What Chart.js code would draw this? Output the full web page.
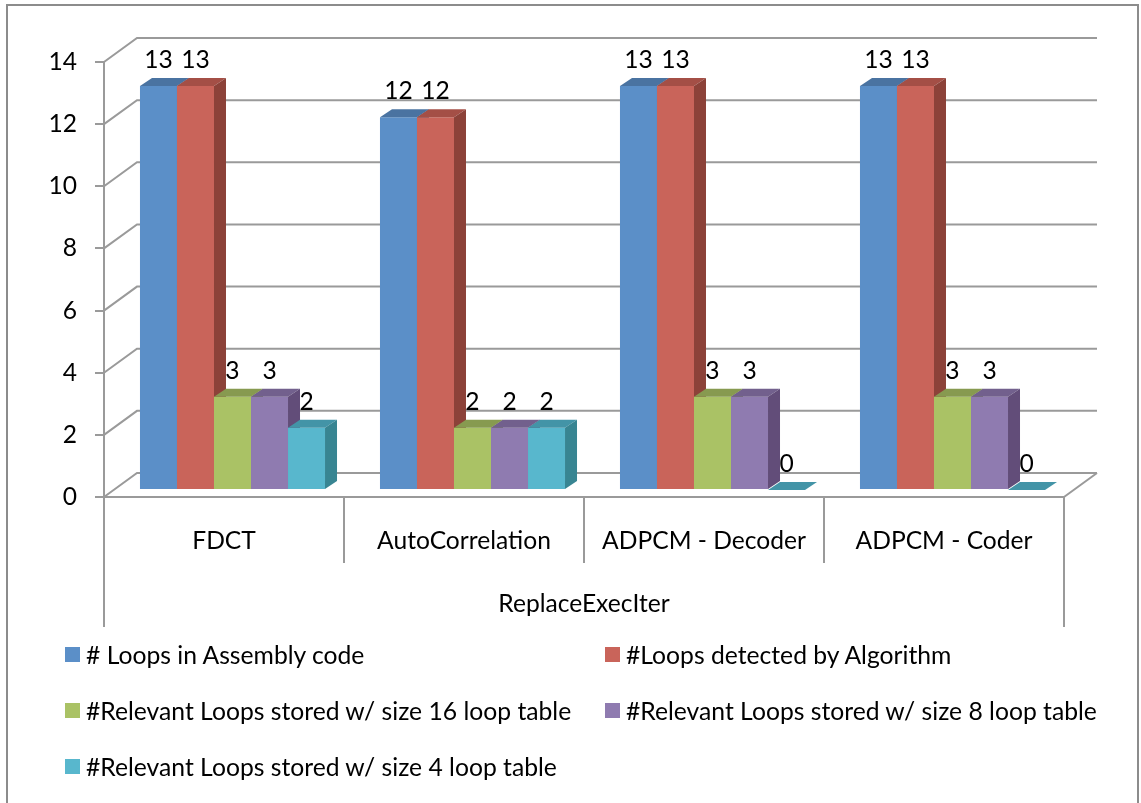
<!DOCTYPE html>
<html>
<head>
<meta charset="utf-8">
<script src="https://cdn.jsdelivr.net/npm/chart.js@4.4.1/dist/chart.umd.min.js"></script>
<style>
  html, body { margin: 0; padding: 0; background: #fff; }
  #wrap { position: relative; width: 1141px; height: 803px; overflow: hidden; font-family: Lato, "Open Sans", sans-serif; }
  #frame { position: absolute; left: 6px; top: 4px; width: 1133px; height: 820px; border: 2px solid #8c8c8c; box-sizing: border-box; }
  #c { position: absolute; left: 0; top: 0; }
  .lg { position: absolute; height: 30px; line-height: 30px; font-size: 24.7px; color: #000; white-space: nowrap; }
  .lg i { position: absolute; left: 0; top: 7px; width: 15px; height: 15px; }
  .lg span { position: absolute; left: 21px; top: 0; }
</style>
</head>
<body>
<div id="wrap">
  <div id="frame"></div>
  <canvas id="c" width="1141" height="803"></canvas>
  <div id="legend"></div>
</div>
<script>
// datos
const categories = ["FDCT", "AutoCorrelation", "ADPCM - Decoder", "ADPCM - Coder"];
const groupLabel = "ReplaceExecIter";
const seriesNames = [
  "# Loops in Assembly code",
  "#Loops detected by Algorithm",
  "#Relevant Loops stored w/ size 16 loop table",
  "#Relevant Loops stored w/ size 8 loop table",
  "#Relevant Loops stored w/ size 4 loop table"
];
const loopsAssembly = [13, 12, 13, 13];
const loopsDetected = [13, 12, 13, 13];
const stored16 = [3, 2, 3, 3];
const stored8 = [3, 2, 3, 3];
const stored4 = [2, 2, 0, 0];
const yMax = 14;
const yStep = 2;

// colores: cara frontal, superior, lateral
const frontColors = ["#5b8fc8", "#c9645a", "#aac265", "#8f7bb0", "#58b7cd"];
const topColors   = ["#4a73a1", "#a44f46", "#879a50", "#72608d", "#4394a7"];
const sideColors  = ["#3f6690", "#8c4239", "#7a8b46", "#624d79", "#388592"];

const GRID = "#9a9a9a";
const FONT = "Lato, 'Open Sans', sans-serif";
const FSIZE = 24.6;
const WALL_DX = 33, WALL_DY = -24;   // profundidad de la pared del fondo
const BAR_DX = 12, BAR_DY = -8;      // profundidad de cada barra
const SHIFT_X = 8.5, SHIFT_Y = -7;   // las barras estan a media profundidad

const allSeries = [loopsAssembly, loopsDetected, stored16, stored8, stored4];

// paredes 3D (lineas de fondo + diagonales)
const walls = {
  id: "walls",
  beforeDraw(chart) {
    const { ctx, chartArea: a, scales: { x, y } } = chart;
    ctx.save();
    ctx.strokeStyle = GRID;
    ctx.lineWidth = 2;
    y.ticks.forEach(t => {
      const py = y.getPixelForValue(t.value);
      ctx.beginPath();
      ctx.moveTo(a.left, py);
      ctx.lineTo(a.left + WALL_DX, py + WALL_DY);
      ctx.lineTo(a.right + WALL_DX, py + WALL_DY);
      ctx.stroke();
    });
    // borde derecho del piso
    ctx.beginPath();
    ctx.moveTo(a.right, a.bottom);
    ctx.lineTo(a.right + WALL_DX, a.bottom + WALL_DY);
    ctx.stroke();
    // separadores de categorias (tabla)
    const half = (a.right - a.left) / categories.length / 2;
    for (let i = 0; i <= categories.length; i++) {
      const px = i < categories.length ? x.getPixelForValue(i) - half : x.getPixelForValue(i - 1) + half;
      const outer = i === 0 || i === categories.length;
      ctx.beginPath();
      ctx.moveTo(px, a.bottom);
      ctx.lineTo(px, a.bottom + (outer ? 130 : 66));
      ctx.stroke();
    }
    ctx.restore();
  }
};

// barras 3D: frente (elemento de Chart.js) + tapa + costado, de izquierda a derecha
const bars3d = {
  id: "bars3d",
  beforeDatasetsDraw(chart) {
    const ctx = chart.ctx;
    const metas = chart.getSortedVisibleDatasetMetas();
    ctx.save();
    ctx.translate(SHIFT_X, SHIFT_Y);
    categories.forEach((_, j) => {
      metas.forEach((meta, i) => {
        const bar = meta.data[j];
        const { x, y, base, width } = bar.getProps(["x", "y", "base", "width"], true);
        const l = x - width / 2, r = x + width / 2;
        bar.draw(ctx);
        ctx.fillStyle = topColors[i];
        ctx.beginPath();
        ctx.moveTo(l, y); ctx.lineTo(r, y);
        ctx.lineTo(r + BAR_DX, y + BAR_DY); ctx.lineTo(l + BAR_DX, y + BAR_DY);
        ctx.closePath(); ctx.fill();
        ctx.fillStyle = sideColors[i];
        ctx.beginPath();
        ctx.moveTo(r, y); ctx.lineTo(r + BAR_DX, y + BAR_DY);
        ctx.lineTo(r + BAR_DX, base + BAR_DY); ctx.lineTo(r, base);
        ctx.closePath(); ctx.fill();
      });
    });
    // etiquetas de valor
    ctx.fillStyle = "#000";
    ctx.font = FSIZE + "px " + FONT;
    ctx.textAlign = "center";
    ctx.textBaseline = "middle";
    metas.forEach((meta, i) => {
      meta.data.forEach((bar, j) => {
        ctx.fillText(String(allSeries[i][j]), bar.x, bar.y - 26);
      });
    });
    ctx.restore();
    return false;
  }
};

new Chart(document.getElementById("c"), {
  type: "bar",
  data: {
    labels: categories,
    datasets: allSeries.map((d, i) => ({
      label: seriesNames[i],
      data: d,
      backgroundColor: frontColors[i],
      borderWidth: 0
    }))
  },
  options: {
    responsive: false,
    animation: false,
    categoryPercentage: 0.771,
    barPercentage: 1,
    layout: { padding: { left: 10, top: 62, right: 77, bottom: 166 } },
    plugins: { legend: { display: false }, tooltip: { enabled: false } },
    scales: {
      x: {
        afterFit: s => { s.height = 140; },
        grid: { display: false },
        border: { display: true, color: GRID, width: 2 },
        ticks: { color: "#000", font: { family: FONT, size: FSIZE }, padding: 21, maxRotation: 0 },
        title: { display: true, text: groupLabel, color: "#000", font: { family: FONT, size: FSIZE }, padding: { top: 0, bottom: 18 } }
      },
      y: {
        min: 0,
        max: yMax,
        afterFit: s => { s.width = 94; },
        ticks: { stepSize: yStep, color: "#000", font: { family: FONT, size: FSIZE }, padding: 18 },
        grid: { drawOnChartArea: false, drawTicks: true, tickLength: 9, color: GRID, lineWidth: 2 },
        border: { display: true, color: GRID, width: 2 }
      }
    }
  },
  plugins: [walls, bars3d]
});

// leyenda en dos columnas
const legendPos = [[65, 655], [605, 655], [65, 711], [605, 711], [65, 767]];
const lg = document.getElementById("legend");
seriesNames.forEach((name, i) => {
  const d = document.createElement("div");
  d.className = "lg";
  d.style.left = legendPos[i][0] + "px";
  d.style.top = (legendPos[i][1] - 15) + "px";
  d.innerHTML = '<i style="background:' + frontColors[i] + '"></i><span>' + name + "</span>";
  lg.appendChild(d);
});
</script>
</body>
</html>
